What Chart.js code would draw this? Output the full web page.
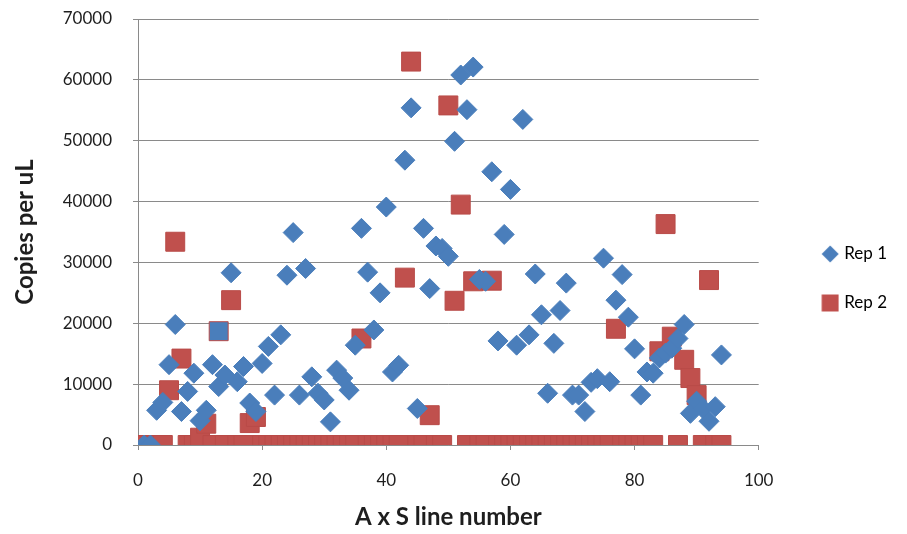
<!DOCTYPE html>
<html>
<head>
<meta charset="utf-8">
<script src="https://cdn.jsdelivr.net/npm/chart.js@4.4.1/dist/chart.umd.min.js"></script>
<style>
  body { margin: 0; background: #fff; }
</style>
</head>
<body>
<canvas id="myChart" width="907" height="534"></canvas>
<script>
// A x S line numbers and copies per uL for the two replicates
let lineNumbers = [
    1, 2, 3, 4, 5, 6, 7, 8, 9, 10, 11, 12, 13, 14, 15, 16, 17, 18, 19, 20,
    21, 22, 23, 24, 25, 26, 27, 28, 29, 30, 31, 32, 33, 34, 35, 36, 37, 38, 39, 40,
    41, 42, 43, 44, 45, 46, 47, 48, 49, 50, 51, 52, 53, 54, 55, 56, 57, 58, 59, 60,
    61, 62, 63, 64, 65, 66, 67, 68, 69, 70, 71, 72, 73, 74, 75, 76, 77, 78, 79, 80,
    81, 82, 83, 84, 85, 86, 87, 88, 89, 90, 91, 92, 93, 94
];

let rep1 = [
    0, 0, 5700, 7000, 13200, 19800, 5500, 8800, 11800, 4000,
    5700, 13200, 9600, 11500, 28300, 10400, 12900, 6900, 5500, 13400,
    16200, 8200, 18100, 27900, 34900, 8200, 29000, 11200, 8500, 7400,
    3800, 12300, 11000, 9000, 16400, 35600, 28400, 18900, 25000, 39100,
    12000, 13100, 46800, 55400, 6000, 35600, 25700, 32700, 32300, 31000,
    49900, 60800, 55100, 62100, 27200, 26900, 44900, 17100, 34600, 42000,
    16400, 53500, 18100, 28100, 21400, 8500, 16700, 22100, 26600, 8200,
    8200, 5500, 10300, 10900, 30700, 10400, 23800, 28000, 21000, 15800,
    8200, 12000, 11800, 14300, 15100, 15900, 17500, 19800, 5200, 7200,
    6000, 3900, 6300, 14800
];

let rep2 = [
    0, 0, 0, 0, 9000, 33400, 14200, 0, 0, 1200,
    3500, 0, 18700, 0, 23800, 0, 0, 3600, 4600, 0,
    0, 0, 0, 0, 0, 0, 0, 0, 0, 0,
    0, 0, 0, 0, 0, 17500, 0, 0, 0, 0,
    0, 0, 27500, 63000, 0, 0, 4900, 0, 0, 55800,
    23700, 39500, 0, 26900, 0, 0, 27000, 0, 0, 0,
    0, 0, 0, 0, 0, 0, 0, 0, 0, 0,
    0, 0, 0, 0, 0, 0, 19100, 0, 0, 0,
    0, 0, 0, 15400, 36300, 17800, 0, 14000, 11000, 8200,
    0, 27100, 0, 0
];

// the one Rep 2 point that was left with a blue fill
let rep2BlueFill = [13];

let xTicks = [0, 20, 40, 60, 80, 100];
let yTicks = [0, 10000, 20000, 30000, 40000, 50000, 60000, 70000];

const blue = '#4a7ebb';
const red = '#c0504d';
const gridGray = '#8a8a8a';
const textColor = '#1e1e1e';

Chart.defaults.font.family = 'Lato';
Chart.defaults.font.size = 17;
Chart.defaults.color = textColor;

let toPoints = (values) => lineNumbers.map((n, i) => ({ x: n, y: values[i] }));

// legend icons: wider canvas so the marker sits right next to the text
let legendIcon = (shape, color) => {
    let c = document.createElement('canvas');
    c.width = 52;
    c.height = 20;
    let g = c.getContext('2d');
    g.fillStyle = color;
    g.beginPath();
    if (shape === 'diamond') {
        g.moveTo(43, 1.5);
        g.lineTo(51.5, 10);
        g.lineTo(43, 18.5);
        g.lineTo(34.5, 10);
        g.closePath();
    } else {
        g.rect(34.5, 1.5, 17, 17);
    }
    g.fill();
    return c;
};

let ctx = document.getElementById('myChart').getContext('2d');

let data = {
    datasets: [{
        label: 'Rep 1',
        data: toPoints(rep1),
        pointStyle: 'rectRot',
        pointRadius: 10,
        pointHoverRadius: 10,
        backgroundColor: blue,
        borderColor: blue,
        borderWidth: 1,
        showLine: false
    }, {
        label: 'Rep 2',
        data: toPoints(rep2),
        pointStyle: 'rect',
        pointRadius: 13.4,
        pointHoverRadius: 13.4,
        backgroundColor: lineNumbers.map(n => rep2BlueFill.includes(n) ? blue : red),
        borderColor: '#b94b48',
        borderWidth: 1,
        showLine: false
    }]
};

let myChart = new Chart(ctx, {
    type: 'scatter',
    data: data,
    options: {
        responsive: false,
        animation: false,
        devicePixelRatio: 1,
        layout: {
            padding: { left: 8, top: 14, right: 10, bottom: -9 }
        },
        plugins: {
            tooltip: { enabled: false },
            legend: {
                position: 'right',
                labels: {
                    usePointStyle: true,
                    pointStyleWidth: 45,
                    padding: 32,
                    color: textColor,
                    font: { size: 17 },
                    generateLabels: (chart) => [
                        { text: 'Rep 1', pointStyle: legendIcon('diamond', blue), datasetIndex: 0, lineWidth: 0 },
                        { text: 'Rep 2', pointStyle: legendIcon('square', red), datasetIndex: 1, lineWidth: 0 }
                    ]
                }
            }
        },
        scales: {
            x: {
                type: 'linear',
                min: 0,
                max: 100,
                afterBuildTicks: (scale) => { scale.ticks = xTicks.map(v => ({ value: v })); },
                afterFit: (scale) => { scale.height = 98; },
                ticks: { padding: 20, color: textColor },
                grid: { drawOnChartArea: false, drawTicks: true, tickLength: 5, color: gridGray },
                border: { color: gridGray },
                title: {
                    display: true,
                    text: 'A x S line number',
                    color: textColor,
                    font: { size: 24, weight: 'bold' },
                    padding: { top: 0, bottom: 11 }
                }
            },
            y: {
                min: 0,
                max: 70000,
                afterBuildTicks: (scale) => { scale.ticks = yTicks.map(v => ({ value: v })); },
                afterFit: (scale) => {
                    scale.width = 130;
                    scale.paddingTop = 19;
                },
                ticks: { padding: 21, color: textColor, callback: (v) => String(v) },
                grid: { color: gridGray, tickLength: 5 },
                border: { color: gridGray },
                title: {
                    display: true,
                    text: 'Copies per uL',
                    color: textColor,
                    font: { size: 24, weight: 'bold' },
                    padding: { top: 3, bottom: 0 }
                }
            }
        }
    }
});
</script>
</body>
</html>
